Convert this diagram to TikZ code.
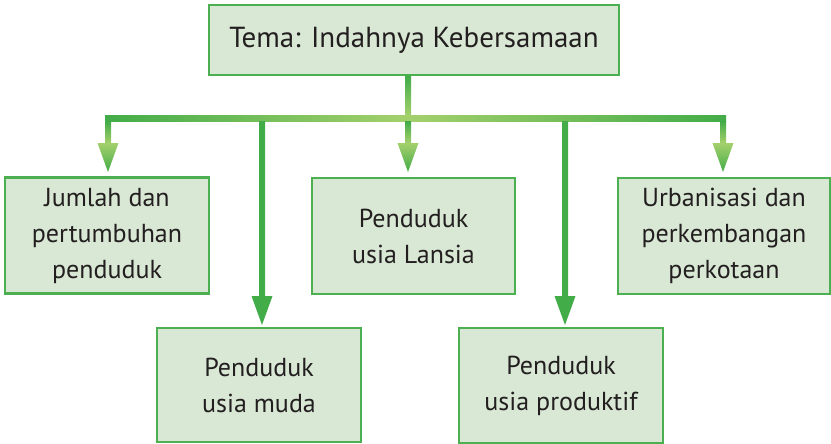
\documentclass[tikz,border=0pt]{standalone}
\usepackage{fontspec}
\setmainfont{PT Sans}
\usetikzlibrary{calc}
\definecolor{boxfill}{RGB}{217,232,212}
\definecolor{boxline}{RGB}{76,176,80}
\definecolor{dgreen}{RGB}{66,172,72}
\definecolor{lgreen}{RGB}{164,208,108}
\definecolor{txt}{RGB}{35,31,32}
\begin{document}
\begin{tikzpicture}[x=1pt,y=-1pt,
	box/.style ={draw=boxline, fill=boxfill, line width=2.5pt, align=center, text=txt,
		minimum width=204pt, minimum height=116pt, inner sep=0pt,
		font=\fontsize{26}{36}\selectfont}]
		\useasboundingbox (0,0) rectangle (831,444);
		% boxes
		\node[box, minimum width=410pt, minimum height=70pt, font=\fontsize{29}{36}\selectfont] (tema) at (414,40) {Tema: Indahnya Kebersamaan};
		\node[box] (jumlah) at (107,235.5) {Jumlah dan\\pertumbuhan\\penduduk};
		\node[box, minimum height=114pt] (muda) at (259,385) {Penduduk\\usia muda};
		\node[box, minimum width=203pt] (lansia) at (413.5,236) {Penduduk\\usia Lansia};
		\node[box, minimum height=115pt] (produktif) at (561,385.5) {Penduduk\\usia produktif};
		\node[box, minimum width=212pt] (urban) at (724,236) {Urbanisasi dan\\perkembangan\\perkotaan};
		% hub and arrow tips
		\coordinate (hub) at (408,118.5);
		\coordinate (t1) at (108,172);
		\coordinate (t2) at (262,325);
		\coordinate (t3) at (408,172);
		\coordinate (t4) at (565,325);
		\coordinate (t5) at (723,172);
		% stem and bar
		\shade[top color=dgreen, bottom color=lgreen] ($(tema.south -| hub)+(-3,0)$) rectangle ($(hub)+(3,-3)$);
		\shade[left color=dgreen, right color=lgreen] ($(t1 |- hub)+(-3,-3)$) rectangle ($(hub)+(0,3)$);
		\shade[left color=lgreen, right color=dgreen] ($(hub)+(0,-3)$) rectangle ($(t5 |- hub)+(3,3)$);
		% short arrows
		\shade[top color=dgreen, bottom color=lgreen] ($(t1 |- hub)+(-3,3)$) rectangle ($(t1)+(3,-29)$);
		\shade[top color=dgreen, bottom color=lgreen] ($(t3 |- hub)+(-3,3)$) rectangle ($(t3)+(3,-29)$);
		\shade[top color=dgreen, bottom color=lgreen] ($(t5 |- hub)+(-3,3)$) rectangle ($(t5)+(3,-29)$);
		\shade[top color=lgreen, bottom color=dgreen] ($(t1)+(-10.5,-29)$) -- ($(t1)+(10.5,-29)$) -- (t1) -- cycle;
		\shade[top color=lgreen, bottom color=dgreen] ($(t3)+(-10.5,-29)$) -- ($(t3)+(10.5,-29)$) -- (t3) -- cycle;
		\shade[top color=lgreen, bottom color=dgreen] ($(t5)+(-10.5,-29)$) -- ($(t5)+(10.5,-29)$) -- (t5) -- cycle;
		% long arrows
		\shade[top color=dgreen, middle color=lgreen, bottom color=dgreen] ($(t2 |- hub)+(-3,3)$) rectangle ($(t2)+(3,-28)$);
		\shade[top color=dgreen, middle color=lgreen, bottom color=dgreen] ($(t4 |- hub)+(-3,3)$) rectangle ($(t4)+(3,-28)$);
		\fill[dgreen] ($(t2)+(-10.5,-29)$) -- ($(t2)+(10.5,-29)$) -- (t2) -- cycle;
		\fill[dgreen] ($(t4)+(-10.5,-29)$) -- ($(t4)+(10.5,-29)$) -- (t4) -- cycle;
	\end{tikzpicture}
\end{document}
